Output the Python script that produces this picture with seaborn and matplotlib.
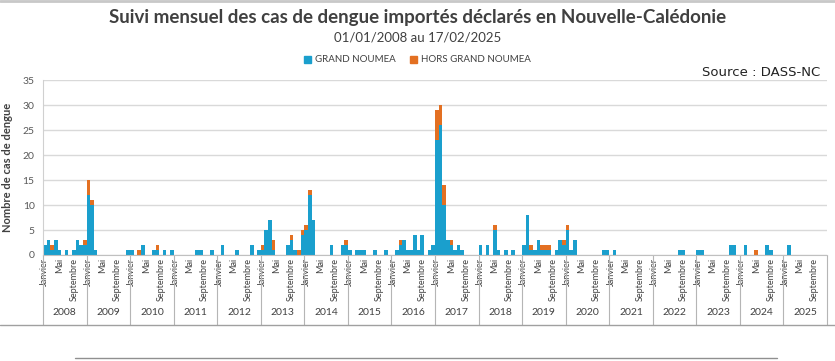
import matplotlib
matplotlib.use("Agg")
import matplotlib.pyplot as plt
import matplotlib.transforms as mtransforms
from matplotlib.lines import Line2D
from matplotlib.patches import Patch
import numpy as np
import seaborn as sns

# monthly imported dengue cases, Jan..Dec for each year
years = list(range(2008, 2026))
month_labels = {0: "Janvier", 4: "Mai", 8: "Septembre"}

grand_noumea = [
    2, 3, 1, 3, 1, 0, 1, 0, 1, 3, 2, 2,      # 2008
    12, 10, 1, 0, 0, 0, 0, 0, 0, 0, 0, 1,    # 2009
    1, 0, 0, 2, 0, 0, 1, 1, 0, 1, 0, 1,      # 2010
    0, 0, 0, 0, 0, 0, 1, 1, 0, 0, 1, 0,      # 2011
    0, 2, 0, 0, 0, 1, 0, 0, 0, 2, 0, 1,      # 2012
    1, 5, 7, 1, 0, 0, 0, 2, 3, 1, 0, 4,      # 2013
    5, 12, 7, 0, 0, 0, 0, 2, 0, 0, 2, 2,     # 2014
    1, 0, 1, 1, 1, 0, 0, 1, 0, 0, 1, 0,      # 2015
    0, 1, 2, 3, 1, 1, 4, 1, 4, 0, 1, 2,      # 2016
    23, 26, 10, 3, 2, 1, 2, 1, 0, 0, 0, 0,   # 2017
    2, 0, 2, 0, 5, 1, 0, 1, 0, 1, 0, 0,      # 2018
    2, 8, 1, 1, 3, 1, 1, 1, 0, 1, 3, 2,      # 2019
    5, 1, 3, 0, 0, 0, 0, 0, 0, 0, 1, 1,      # 2020
    0, 1, 0, 0, 0, 0, 0, 0, 0, 0, 0, 0,      # 2021
    0, 0, 0, 0, 0, 0, 0, 1, 1, 0, 0, 0,      # 2022
    1, 1, 0, 0, 0, 0, 0, 0, 0, 2, 2, 0,      # 2023
    0, 2, 0, 0, 0, 0, 0, 2, 1, 0, 0, 0,      # 2024
    0, 2, 0, 0, 0, 0, 0, 0, 0, 0, 0, 0,      # 2025
]

hors_grand_noumea = [
    0, 0, 1, 0, 0, 0, 0, 0, 0, 0, 0, 1,      # 2008
    3, 1, 0, 0, 0, 0, 0, 0, 0, 0, 0, 0,      # 2009
    0, 0, 1, 0, 0, 0, 0, 1, 0, 0, 0, 0,      # 2010
    0, 0, 0, 0, 0, 0, 0, 0, 0, 0, 0, 0,      # 2011
    0, 0, 0, 0, 0, 0, 0, 0, 0, 0, 0, 0,      # 2012
    1, 0, 0, 2, 0, 0, 0, 0, 1, 0, 1, 1,      # 2013
    1, 1, 0, 0, 0, 0, 0, 0, 0, 0, 0, 1,      # 2014
    0, 0, 0, 0, 0, 0, 0, 0, 0, 0, 0, 0,      # 2015
    0, 0, 1, 0, 0, 0, 0, 0, 0, 0, 0, 0,      # 2016
    6, 4, 4, 0, 1, 0, 0, 0, 0, 0, 0, 0,      # 2017
    0, 0, 0, 0, 1, 0, 0, 0, 0, 0, 0, 0,      # 2018
    0, 0, 1, 0, 0, 1, 1, 1, 0, 0, 0, 1,      # 2019
    1, 0, 0, 0, 0, 0, 0, 0, 0, 0, 0, 0,      # 2020
    0, 0, 0, 0, 0, 0, 0, 0, 0, 0, 0, 0,      # 2021
    0, 0, 0, 0, 0, 0, 0, 0, 0, 0, 0, 0,      # 2022
    0, 0, 0, 0, 0, 0, 0, 0, 0, 0, 0, 0,      # 2023
    0, 0, 0, 0, 1, 0, 0, 0, 0, 0, 0, 0,      # 2024
    0, 0, 0, 0, 0, 0, 0, 0, 0, 0, 0, 0,      # 2025
]

BLUE = "#1a9fcd"
ORANGE = "#e37022"
TXT = "#404040"

sns.set_style("white")
plt.rcParams['font.family'] = ['Lato', 'DejaVu Sans']

n = len(grand_noumea)
months = np.arange(n)
total = np.array(grand_noumea) + np.array(hors_grand_noumea)

fig = plt.figure(figsize=(8.35, 3.61), dpi=100)
ax = fig.add_axes([43 / 835, 1 - 255 / 361, (827 - 43) / 835, 175 / 361])

# orange = total, blue drawn on top
sns.barplot(x=months, y=total, color=ORANGE, width=1, linewidth=0,
            saturation=1, errorbar=None, ax=ax)
sns.barplot(x=months, y=grand_noumea, color=BLUE, width=1, linewidth=0,
            saturation=1, errorbar=None, ax=ax)

ax.set_xlim(-0.5, n - 0.5)
ax.set_ylim(0, 35)
ax.set_yticks(range(0, 36, 5))
ax.tick_params(axis='y', labelsize=7.5, colors="#595959", length=0, pad=6)
ax.yaxis.grid(True, color="#d9d9d9", linewidth=1)
ax.set_axisbelow(True)
for s in ['top', 'right']:
    ax.spines[s].set_visible(False)
ax.spines['left'].set_color("#d0d0d0")
ax.spines['bottom'].set_color("#c0c0c0")
ax.set_xlabel("")
ax.set_ylabel("Nombre de cas de dengue", fontsize=8, fontweight='bold',
              color=TXT, labelpad=7)

# month ticks
pos = [y * 12 + m for y in range(len(years)) for m in month_labels]
labs = [month_labels[m] for y in range(len(years)) for m in month_labels]
ax.set_xticks(pos)
ax.set_xticklabels(labs, rotation=90, fontsize=6.5, color=TXT)
ax.tick_params(axis='x', which='major', length=0, pad=2)
ax.set_xticks(np.arange(n + 1) - 0.5, minor=True)
ax.tick_params(axis='x', which='minor', length=33, width=0.6, color="#cfcfcf")

# year separators and labels
trans = mtransforms.blended_transform_factory(ax.transData, ax.transAxes)
for i, yr in enumerate(years):
    ax.plot([i * 12 - 0.5] * 2, [0, -0.40], transform=trans, color="#b5b5b5",
            lw=0.8, clip_on=False)
    ax.text(i * 12 + 5.5, -0.33, str(yr), transform=trans, ha='center',
            va='center', fontsize=7.5, color=TXT)
ax.plot([n - 0.5] * 2, [0, -0.40], transform=trans, color="#b5b5b5", lw=0.8,
        clip_on=False)

fig.add_artist(Line2D([0, 1], [1 - 325 / 361] * 2, transform=fig.transFigure,
                      color="#a0a0a0", lw=1))
fig.add_artist(Line2D([75 / 835, 777 / 835], [1 - 358 / 361] * 2,
                      transform=fig.transFigure, color="#909090", lw=1))
fig.add_artist(Line2D([0, 1], [0.998] * 2, transform=fig.transFigure,
                      color="#c8c8c8", lw=2))

# titles
fig.text(0.5, 1 - 17 / 361, "Suivi mensuel des cas de dengue importés déclarés en Nouvelle-Calédonie",
         ha='center', va='center', fontsize=13.5, fontweight='bold', color=TXT)
fig.text(0.5, 1 - 38 / 361, "01/01/2008 au 17/02/2025", ha='center',
         va='center', fontsize=9.5, color=TXT)
fig.text(820 / 835, 1 - 72 / 361, "Source : DASS-NC", ha='right', va='center',
         fontsize=9.5, color="#222222", family='DejaVu Sans')

handles = [Patch(color=BLUE, label="GRAND NOUMEA"),
           Patch(color=ORANGE, label="HORS GRAND NOUMEA")]
fig.legend(handles=handles, loc='center', bbox_to_anchor=(0.5, 1 - 60 / 361),
           ncol=2, frameon=False, fontsize=7, handlelength=0.7,
           handleheight=0.7, handletextpad=0.4, columnspacing=1.5,
           labelcolor=TXT)

fig.savefig("out.png", dpi=100)
